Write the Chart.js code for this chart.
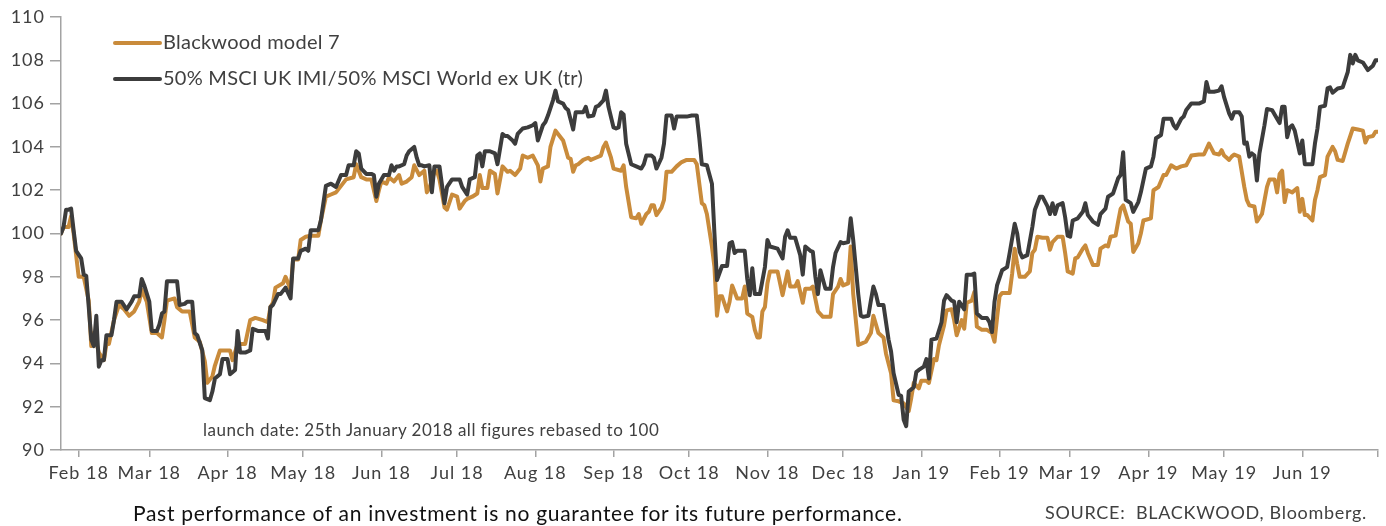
<!DOCTYPE html>
<html>
<head>
<meta charset="utf-8">
<title>Blackwood model 7</title>
<script src="https://cdn.jsdelivr.net/npm/chart.js@4.4.1/dist/chart.umd.min.js"></script>
<style>
    html, body { margin: 0; padding: 0; background: #fff; }
    #wrap { position: relative; width: 1386px; height: 526px; overflow: hidden; }
    #chart { position: absolute; left: 0; top: 0; }
    .note { position: absolute; font-family: Lato, sans-serif; white-space: nowrap; line-height: 1; }
    #launch { left: 203px; top: 421px; font-size: 17px; letter-spacing: 0.5px; color: #404040; }
    #past { left: 133px; top: 502px; font-size: 21px; letter-spacing: 0.7px; color: #111; }
    #source { left: 1045px; top: 503px; font-size: 18px; letter-spacing: 0.7px; color: #404040; }
</style>
</head>
<body>
<div id="wrap">
    <canvas id="chart" width="1386" height="526"></canvas>
    <div class="note" id="launch">launch date: 25th January 2018 all figures rebased to 100</div>
    <div class="note" id="past">Past performance of an investment is no guarantee for its future performance.</div>
    <div class="note" id="source">SOURCE:&nbsp; BLACKWOOD, Bloomberg.</div>
</div>
<script>
// ==================== DATA ====================
// x values are calendar days counted from the launch date (25 Jan 2018)

const seriesLabels = ['Blackwood model 7', '50% MSCI UK IMI/50% MSCI World ex UK (tr)'];

// month starts (Feb 18 ... Jul 19) used as x-axis ticks
const monthTickDays = [7, 35, 66, 96, 127, 157, 188, 219, 249, 280, 310, 341, 372, 400, 431, 461, 492, 522];
const monthLabels = ['Feb 18', 'Mar 18', 'Apr 18', 'May 18', 'Jun 18', 'Jul 18', 'Aug 18', 'Sep 18',
    'Oct 18', 'Nov 18', 'Dec 18', 'Jan 19', 'Feb 19', 'Mar 19', 'Apr 19', 'May 19', 'Jun 19', ''];

const yTickMin = 90;
const yTickMax = 110;
const yTickStep = 2;

// Blackwood model 7
const modelDays = [
    0, 1, 3, 4, 5, 7, 9, 11, 12, 13, 15, 17, 18, 19, 21, 23, 25, 27, 29, 31, 32, 34, 36, 38, 40, 41, 42,
    45, 46, 48, 51, 53, 55, 57, 58, 60, 61, 63, 67, 68, 70, 73, 75, 77, 80, 82, 83, 84, 85, 88, 89, 91,
    92, 94, 95, 97, 99, 102, 103, 105, 107, 109, 111, 113, 116, 117, 119, 121, 123, 125, 126, 127, 129,
    130, 132, 134, 135, 137, 139, 140, 142, 144, 145, 146, 148, 149, 150, 152, 153, 155, 157, 158, 160,
    161, 163, 165, 166, 167, 169, 170, 172, 173, 175, 177, 178, 180, 182, 183, 185, 187, 189, 190, 191,
    193, 194, 196, 198, 199, 201, 202, 203, 204, 205, 207, 209, 210, 212, 214, 215, 216, 218, 219, 222,
    223, 224, 226, 228, 229, 230, 232, 233, 234, 235, 236, 238, 239, 240, 242, 244, 246, 248, 250, 251,
    252, 254, 255, 256, 258, 259, 260, 261, 262, 264, 265, 266, 268, 270, 271, 272, 274, 275, 276, 277,
    278, 279, 280, 281, 284, 286, 288, 289, 291, 292, 294, 295, 297, 298, 300, 302, 305, 306, 308, 309,
    310, 312, 313, 314, 316, 317, 319, 321, 322, 324, 326, 327, 329, 330, 332, 334, 336, 337, 338, 340,
    341, 343, 344, 346, 347, 348, 350, 351, 353, 354, 355, 357, 358, 359, 361, 362, 363, 365, 367, 369,
    370, 371, 372, 373, 376, 377, 378, 379, 380, 382, 384, 385, 386, 387, 389, 391, 392, 393, 395, 397,
    398, 399, 401, 402, 403, 405, 406, 407, 409, 411, 412, 414, 415, 416, 418, 419, 420, 421, 423, 424,
    425, 427, 428, 429, 432, 433, 435, 437, 438, 440, 442, 444, 446, 448, 451, 453, 455, 457, 459, 460,
    461, 463, 464, 465, 467, 469, 470, 471, 473, 474, 476, 478, 479, 481, 482, 483, 484, 485, 486, 488,
    490, 491, 492, 493, 494, 496, 497, 498, 499, 501, 502, 504, 505, 506, 508, 510, 512, 514, 516, 517,
    518, 520, 521, 522
];
const modelValues = [
    100, 100.3, 100.3, 100.8, 100, 98, 98, 96.9, 94.8, 95.4, 94.5, 94.15, 94.9, 94.9, 96, 96.7, 96.5, 96.2,
    96.4, 96.85, 97.4, 96.85, 95.4, 95.4, 95.2, 96, 96.9, 97, 96.6, 96.4, 96.4, 95.2, 95, 94.1, 93.1, 93.4,
    93.9, 94.6, 94.6, 94.15, 94.9, 94.9, 96, 96.1, 96, 95.9, 96.6, 96.8, 97.5, 97.7, 98, 97.4, 98.8, 98.8,
    99.7, 99.85, 99.9, 99.9, 100.6, 101.7, 101.8, 101.9, 102.2, 102.5, 102.6, 103.2, 102.6, 102.5, 102.5,
    101.5, 102, 102.4, 102.3, 102.6, 102.4, 102.7, 102.3, 102.4, 102.6, 103.15, 102.7, 102.9, 101.9, 102.1,
    102.85, 102.9, 102.5, 101.2, 101.1, 101.8, 101.7, 101.15, 101.5, 101.6, 101.7, 101.85, 102.7, 102.1,
    102.1, 102.9, 102.75, 101.85, 103.1, 102.85, 102.9, 102.7, 103, 103.6, 103.5, 103.6, 103.15, 102.4,
    103, 103.1, 104, 104.75, 104.45, 104.3, 103.5, 103.45, 102.85, 103.15, 103.2, 103.4, 103.5, 103.4,
    103.5, 103.6, 104, 104.2, 103.5, 103, 102.9, 103.15, 102.15, 100.75, 100.7, 100.9, 100.45, 100.9, 101,
    101.3, 101.3, 100.85, 101.2, 101.55, 102.85, 102.85, 103.1, 103.3, 103.4, 103.4, 103.4, 103.2, 101.4,
    101.3, 100.9, 99.4, 98.45, 96.2, 97.1, 97.1, 96.4, 96.85, 97.6, 97, 97, 97.55, 96.3, 96.15, 95.55,
    95.2, 95.2, 96.4, 96.6, 97.7, 98.25, 98.25, 97.15, 98.25, 97.55, 97.55, 97.8, 96.8, 97.45, 97.45,
    97.55, 96.4, 96.15, 96.15, 97.2, 97.55, 97.9, 97.6, 97.7, 99.4, 97.2, 94.85, 94.9, 95, 95.4, 96.2,
    95.4, 95.2, 94.45, 93.55, 92.3, 92.25, 92.15, 91.8, 92.4, 93.1, 92.85, 93.2, 93.2, 93.1, 94.2, 94.15,
    94.85, 95.75, 96.45, 96.5, 96, 95.3, 96, 95.6, 96.8, 96.9, 97.3, 95.7, 95.55, 95.55, 95.4, 95, 96.1,
    97.1, 97.25, 97.25, 98.15, 99.3, 98.6, 98, 98, 98.25, 99.1, 99.25, 99.85, 99.8, 99.8, 99.25, 99.6,
    99.85, 99.85, 99.1, 98.25, 98.15, 98.85, 98.9, 99.3, 99.45, 99.1, 98.55, 98.55, 99.3, 99.45, 99.4,
    99.85, 99.9, 100.55, 101.15, 101.3, 100.55, 100.45, 99.15, 99.55, 100, 100.6, 100.7, 102, 102.15,
    102.7, 102.7, 103.15, 103, 103.1, 103.15, 103.6, 103.65, 103.65, 104.15, 103.7, 103.65, 103.85, 103.6,
    103.4, 103.55, 103.65, 103.55, 102.15, 101.55, 101.3, 101.25, 100.55, 100.9, 102.15, 102.5, 102.5,
    101.9, 102.75, 102.9, 101.45, 102, 101.9, 102.1, 101, 101.6, 100.85, 100.85, 100.6, 101.55, 102,
    102.6, 102.7, 103.55, 104, 103.8, 103.4, 103.35, 104.15, 104.85, 104.8, 104.75, 104.2, 104.45, 104.5,
    104.7, 104.7
];

// 50% MSCI UK IMI / 50% MSCI World ex UK (tr)
const benchDays = [
    0, 1, 2, 3, 4, 5, 6, 8, 9, 10, 11, 12, 13, 14, 15, 16, 17, 18, 20, 21, 22, 24, 26, 28, 29, 31, 32, 33,
    35, 36, 38, 39, 40, 41, 42, 44, 46, 47, 49, 50, 52, 53, 54, 56, 57, 59, 60, 61, 63, 64, 66, 67, 69, 70,
    71, 73, 75, 76, 78, 81, 82, 83, 84, 86, 87, 89, 91, 92, 94, 95, 97, 98, 99, 102, 103, 105, 107, 109,
    111, 113, 114, 116, 117, 118, 119, 121, 123, 124, 125, 126, 128, 130, 131, 132, 133, 134, 136, 137,
    138, 140, 141, 142, 143, 144, 146, 147, 148, 150, 152, 153, 155, 158, 159, 161, 162, 164, 165, 166,
    167, 168, 170, 172, 173, 175, 176, 177, 179, 180, 181, 183, 185, 187, 188, 189, 191, 192, 193, 195,
    196, 197, 199, 200, 201, 203, 204, 205, 207, 208, 209, 211, 212, 213, 215, 216, 217, 219, 220, 221,
    222, 223, 224, 226, 228, 230, 231, 232, 234, 235, 236, 238, 239, 240, 242, 243, 244, 246, 248, 250,
    252, 253, 254, 256, 258, 259, 260, 262, 264, 265, 266, 267, 268, 271, 272, 273, 274, 275, 277, 279,
    280, 281, 284, 286, 287, 288, 289, 291, 293, 294, 295, 297, 298, 299, 300, 301, 303, 305, 306, 307,
    309, 310, 312, 313, 314, 315, 316, 317, 318, 320, 321, 322, 323, 324, 326, 328, 329, 330, 332, 333,
    334, 335, 336, 338, 339, 340, 342, 343, 344, 345, 347, 349, 350, 351, 353, 354, 355, 356, 358, 359,
    361, 362, 363, 365, 367, 368, 369, 370, 371, 373, 375, 376, 378, 379, 380, 381, 383, 385, 386, 388,
    389, 391, 392, 393, 394, 395, 397, 398, 399, 400, 401, 403, 405, 406, 407, 409, 411, 412, 414, 415,
    417, 419, 420, 421, 422, 424, 425, 427, 428, 430, 432, 433, 434, 436, 437, 440, 441, 442, 444, 445,
    446, 448, 451, 453, 454, 455, 457, 459, 460, 461, 463, 464, 465, 467, 468, 469, 470, 471, 472, 473,
    474, 475, 477, 478, 480, 482, 483, 484, 485, 486, 487, 488, 489, 491, 492, 493, 495, 496, 497, 498,
    499, 501, 502, 503, 504, 506, 508, 510, 511, 512, 513, 514, 516, 518, 520, 521, 522
];
const benchValues = [
    100, 100.3, 101.1, 101.1, 101.15, 100.15, 99.2, 98.85, 98.1, 98.05, 96.6, 95.1, 94.8, 96.2, 93.85,
    94.15, 94.15, 95.3, 95.3, 96, 96.85, 96.85, 96.5, 96.85, 97.1, 97.1, 97.9, 97.6, 96.85, 95.5, 95.5,
    95.8, 96.3, 96.4, 97.8, 97.8, 97.8, 96.7, 96.75, 96.85, 96.85, 95.4, 95.3, 94.6, 92.4, 92.3, 92.7,
    93.3, 93.5, 94.2, 94.2, 93.5, 93.7, 95.5, 94.5, 94.5, 94.6, 95.6, 95.5, 95.5, 95.15, 96.6, 96.7, 97.2,
    97.2, 97.5, 97, 98.85, 98.85, 99.2, 99.3, 99.2, 100.15, 100.15, 100.6, 102.2, 102.3, 102.15, 102.7,
    102.7, 103.15, 103.15, 103.8, 103.7, 103, 102.75, 102.75, 102.7, 101.7, 102.3, 102.7, 102.7, 103.15,
    102.9, 103.1, 103.1, 103.2, 103.6, 103.8, 104, 103.5, 103.15, 103.15, 103.1, 103.15, 101.9, 103.1,
    103.1, 101.4, 102.15, 102.5, 102.5, 102.15, 101.8, 102.5, 102.6, 103.6, 103.7, 103.1, 103.8, 103.8,
    103.7, 103.2, 104.6, 104.5, 104.5, 104.3, 104.15, 104.6, 104.85, 104.9, 105, 105.1, 104.3, 105,
    105.15, 105.45, 106.15, 106.6, 106.1, 106, 105.8, 105.7, 104.8, 105.6, 105.6, 105.6, 105.85, 105.4,
    105.45, 105.85, 105.9, 106.15, 106.6, 105.85, 104.9, 104.85, 104.9, 105.6, 105.5, 104.15, 103.2,
    103.1, 103, 103.2, 103.6, 103.6, 103.5, 103, 103.5, 104.15, 105.45, 105.45, 104.85, 105.4, 105.4,
    105.4, 105.45, 105.45, 104.4, 103.2, 103.15, 102.3, 100, 97.85, 98.5, 98.5, 99.55, 99.6, 99.1, 99.2,
    99.2, 97.9, 97.15, 98.4, 97.2, 97.2, 98.45, 99.7, 99.4, 99.3, 98.85, 99.85, 100.15, 99.8, 99.8, 99,
    98.1, 99.4, 99.2, 99.15, 98, 97.2, 98.3, 97.45, 97.45, 98.45, 99.1, 99.6, 99.55, 99.6, 100.7, 99.7,
    98.45, 97.2, 96.2, 96.15, 96.2, 96.9, 97.55, 97.2, 96.7, 96.7, 95.1, 94.55, 93.55, 92.55, 92.5, 91.4,
    91.1, 92.7, 92.9, 93.6, 93.7, 93.85, 94.2, 93.3, 95.1, 95.15, 95.9, 96.9, 97.15, 96.9, 96.85, 95.9,
    96.85, 96.5, 98.1, 98.1, 98.15, 96.3, 96.1, 96.1, 95.9, 95.45, 96.85, 97.6, 98.3, 98.45, 99.1, 100.45,
    100, 99.15, 98.9, 99, 100.3, 101.1, 101.7, 101.7, 101.25, 100.9, 101.4, 100.9, 101.3, 101.4, 100.75,
    99.9, 99.85, 100.6, 100.7, 101, 101.4, 100.85, 100.55, 100.4, 100.9, 101.15, 101.7, 101.85, 102.55,
    102.7, 103.75, 101.55, 101.4, 101, 101.45, 101.9, 103, 103.1, 103.55, 104.4, 104.55, 105.3, 105.3,
    105, 104.85, 105.3, 105.4, 105.7, 106, 106, 106.1, 107, 106.55, 106.55, 106.6, 106.8, 106.3, 105.55,
    105.3, 105.6, 105.6, 105.4, 104.15, 104.2, 103.55, 103.7, 103.6, 102.45, 103.7, 105, 105.75, 105.7,
    105.3, 105.1, 105.85, 105.85, 104.45, 104.9, 105, 104.75, 103.7, 104.3, 103.2, 103.2, 103.2, 104.15,
    104.85, 105.85, 105.9, 106.7, 106.75, 106.5, 106.7, 106.75, 107.45, 108.25, 107.85, 108.25, 108,
    107.9, 107.55, 107.75, 108, 108
];

// ==================== COLOURS / FONTS ====================
const modelColor = '#c98b3b';
const benchColor = '#3c3c3c';
const textColor = '#404040';
const axisColor = '#a3a3a3';
const fontFamily = 'Lato, sans-serif';

function toPoints(days, values) {
    return days.map(function (d, i) {
        return { x: d, y: values[i] };
    });
}

// ---- Slightly wider lettering for the axis labels ----
const wideText = {
    id: 'wideText',
    beforeDraw: function (chart) {
        chart.ctx.letterSpacing = '1px';
    }
};

// ---- Legend drawn inside the plot, top left ----
const insideLegend = {
    id: 'insideLegend',
    afterDraw: function (chart) {
        const ctx = chart.ctx;
        ctx.save();
        ctx.font = '20px ' + fontFamily;
        ctx.letterSpacing = '0.25px';
        ctx.textBaseline = 'middle';
        chart.data.datasets.forEach(function (ds, i) {
            const y = 43 + i * 36;
            ctx.strokeStyle = ds.borderColor;
            ctx.lineWidth = 4;
            ctx.lineCap = 'round';
            ctx.beginPath();
            ctx.moveTo(115, y);
            ctx.lineTo(160, y);
            ctx.stroke();
            ctx.fillStyle = textColor;
            ctx.fillText(ds.label, 163, y);
        });
        ctx.restore();
    }
};

const ctx = document.getElementById('chart').getContext('2d');
new Chart(ctx, {
    type: 'line',
    data: {
        datasets: [{
            label: seriesLabels[0],
            data: toPoints(modelDays, modelValues),
            borderColor: modelColor,
            backgroundColor: modelColor,
            borderWidth: 4,
            order: 2
        }, {
            label: seriesLabels[1],
            data: toPoints(benchDays, benchValues),
            borderColor: benchColor,
            backgroundColor: benchColor,
            borderWidth: 4,
            order: 1
        }]
    },
    options: {
        responsive: false,
        animation: false,
        events: [],
        layout: { padding: { top: 17, right: 8, left: 0, bottom: 0 } },
        elements: {
            point: { radius: 0 },
            line: { tension: 0, borderJoinStyle: 'round', borderCapStyle: 'round' }
        },
        scales: {
            x: {
                type: 'linear',
                min: 0,
                max: 522,
                afterBuildTicks: function (axis) {
                    axis.ticks = monthTickDays.map(function (d) { return { value: d }; });
                },
                afterFit: function (axis) { axis.height = 76; },
                ticks: {
                    autoSkip: false,
                    maxRotation: 0,
                    padding: 5,
                    color: textColor,
                    font: { family: fontFamily, size: 18 },
                    callback: function (value, index) { return monthLabels[index]; }
                },
                grid: { drawOnChartArea: false, tickLength: 7, color: axisColor, lineWidth: 1.5 },
                border: { color: axisColor, width: 1.5 }
            },
            y: {
                min: yTickMin,
                max: yTickMax,
                afterFit: function (axis) { axis.width = 61; },
                ticks: {
                    stepSize: yTickStep,
                    padding: 5,
                    color: textColor,
                    font: { family: fontFamily, size: 18 }
                },
                grid: { drawOnChartArea: false, tickLength: 11, color: axisColor, lineWidth: 1.5 },
                border: { color: axisColor, width: 1.5 }
            }
        },
        plugins: {
            legend: { display: false },
            tooltip: { enabled: false }
        }
    },
    plugins: [wideText, insideLegend]
});
</script>
</body>
</html>
